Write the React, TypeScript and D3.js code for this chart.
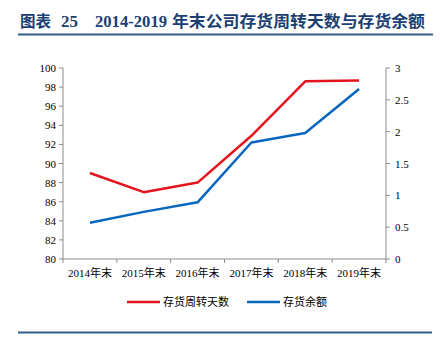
import React from "react";
import * as d3 from "d3";

const categories = ["2014年末", "2015年末", "2016年末", "2017年末", "2018年末", "2019年末"];
const turnoverDays = [89.0, 87.0, 88.0, 92.9, 98.6, 98.7];
const inventoryBalance = [0.57, 0.74, 0.89, 1.83, 1.98, 2.67];
const leftTicks = [80, 82, 84, 86, 88, 90, 92, 94, 96, 98, 100];
const rightTicks = [0, 0.5, 1, 1.5, 2, 2.5, 3];
const seriesNames = ["存货周转天数", "存货余额"];

const W = 440;
const H = 338;
const left = 63;
const right = 386;
const top = 68;
const bottom = 259;

const RED = "#E3141E";
const BLUE = "#0866BE";
const AXIS = "#8C8C8C";
const TITLE = "#1B3F73";
const RULE = "#2E5C8E";

export default function App() {
  const x = d3.scaleBand<string>().domain(categories).range([left, right]);
  const yL = d3.scaleLinear().domain([80, 100]).range([bottom, top]);
  const yR = d3.scaleLinear().domain([0, 3]).range([bottom, top]);
  const cx = (c: string) => (x(c) as number) + x.bandwidth() / 2;

  const redLine = d3
    .line<number>()
    .x((_, i) => cx(categories[i]))
    .y((d) => yL(d))(turnoverDays) as string;
  const blueLine = d3
    .line<number>()
    .x((_, i) => cx(categories[i]))
    .y((d) => yR(d))(inventoryBalance) as string;

  const tickFont = "'Liberation Serif', 'Times New Roman', serif";
  const cjkFont = "'Liberation Serif', 'Noto Sans CJK SC', serif";
  const boundaries = [...categories.map((c) => x(c) as number), right];

  return (
    <svg width={W} height={H} style={{ position: "absolute", left: 0, top: 0 }}>
      <rect width={W} height={H} fill="#fff" />
      {/* Title */}
      <g fill={TITLE} fontWeight="bold" fontSize={16}>
        <text x={20} y={27} fontFamily="'Noto Sans CJK SC', sans-serif" textLength={31} lengthAdjust="spacingAndGlyphs">图表</text>
        <text x={61} y={27} fontFamily={tickFont} fontSize={17}>25</text>
        <text x={95} y={27} fontFamily={tickFont} fontSize={17} textLength={72} lengthAdjust="spacingAndGlyphs">2014-2019</text>
        <text x={172} y={27} fontFamily="'Noto Sans CJK SC', sans-serif" textLength={253} lengthAdjust="spacingAndGlyphs">年末公司存货周转天数与存货余额</text>
      </g>
      <line x1={18} x2={433} y1={34.5} y2={34.5} stroke={RULE} strokeWidth={2} />
      <line x1={18} x2={432} y1={332.5} y2={332.5} stroke={RULE} strokeWidth={2} />

      {/* Axes */}
      <g stroke={AXIS} strokeWidth={1} fill="none">
        <line x1={left} x2={left} y1={top} y2={bottom} />
        <line x1={right} x2={right} y1={top} y2={bottom} />
        <line x1={left} x2={right} y1={bottom} y2={bottom} />
        {leftTicks.map((t) => (
          <line key={"l" + t} x1={left - 4} x2={left} y1={yL(t)} y2={yL(t)} />
        ))}
        {rightTicks.map((t) => (
          <line key={"r" + t} x1={right} x2={right + 4} y1={yR(t)} y2={yR(t)} />
        ))}
        {boundaries.map((b, i) => (
          <line key={"b" + i} x1={b} x2={b} y1={bottom} y2={bottom + 4} />
        ))}
      </g>
      <g fontFamily={tickFont} fontSize={11} fill="#000">
        {leftTicks.map((t) => (
          <text key={"lt" + t} x={56} y={yL(t) + 4} textAnchor="end">{t}</text>
        ))}
        {rightTicks.map((t) => (
          <text key={"rt" + t} x={395} y={yR(t) + 4} textAnchor="start">{t}</text>
        ))}
        {categories.map((c) => (
          <text key={"c" + c} x={cx(c)} y={277} textAnchor="middle" fontFamily={cjkFont}>{c}</text>
        ))}
      </g>

      {/* Lines */}
      <path d={redLine} fill="none" stroke={RED} strokeWidth={2.5} strokeLinejoin="round" />
      <path d={blueLine} fill="none" stroke={BLUE} strokeWidth={2.5} strokeLinejoin="round" />

      {/* Legend */}
      <g fontSize={11} fontFamily="'Noto Sans CJK SC', serif" fill="#000">
        <line x1={127} x2={160} y1={302} y2={302} stroke={RED} strokeWidth={2.5} />
        <text x={163} y={306}>{seriesNames[0]}</text>
        <line x1={247} x2={280} y1={302} y2={302} stroke={BLUE} strokeWidth={2.5} />
        <text x={283} y={306}>{seriesNames[1]}</text>
      </g>
    </svg>
  );
}
